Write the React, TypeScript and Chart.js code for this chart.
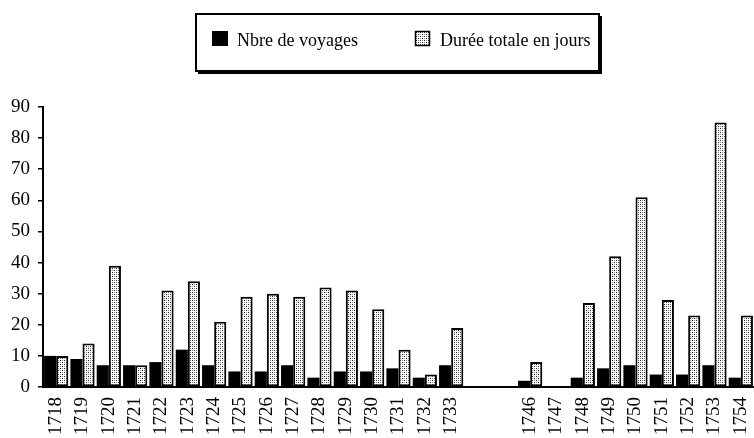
import React, { useEffect, useRef } from 'react';
import { Chart, registerables } from 'chart.js';

Chart.register(...registerables);

const years = [
  '1718', '1719', '1720', '1721', '1722', '1723', '1724', '1725', '1726', '1727',
  '1728', '1729', '1730', '1731', '1732', '1733', '', '', '1746', '1747',
  '1748', '1749', '1750', '1751', '1752', '1753', '1754',
];
const voyages = [10, 9, 7, 7, 8, 12, 7, 5, 5, 7, 3, 5, 5, 6, 3, 7, null, null, 2, 0, 3, 6, 7, 4, 4, 7, 3];
const duree = [10, 14, 39, 7, 31, 34, 21, 29, 30, 29, 32, 31, 25, 12, 4, 19, null, null, 8, 0, 27, 42, 61, 28, 23, 85, 23];
const seriesNames = ['Nbre de voyages', 'Durée totale en jours'];
const yMin = 0;
const yMax = 90;
const yStep = 10;

const FONT = '"Liberation Serif", "Times New Roman", serif';

function makePattern(): CanvasPattern | string {
  const c = document.createElement('canvas');
  c.width = 4;
  c.height = 4;
  const g = c.getContext('2d');
  if (!g) return '#d0d0d0';
  g.fillStyle = '#ffffff';
  g.fillRect(0, 0, 4, 4);
  g.fillStyle = '#222222';
  g.fillRect(0, 0, 1, 1);
  g.fillRect(2, 2, 1, 1);
  g.fillStyle = '#888888';
  g.fillRect(2, 0, 1, 1);
  g.fillRect(0, 2, 1, 1);
  return g.createPattern(c, 'repeat') || '#d0d0d0';
}

export default function App() {
  const ref = useRef<HTMLCanvasElement | null>(null);

  useEffect(() => {
    if (!ref.current) return;
    const pattern = makePattern();

    const legendBox = {
      id: 'legendBox',
      afterDraw(chart: any) {
        const ctx = chart.ctx as CanvasRenderingContext2D;
        ctx.save();
        // frame with shadow
        ctx.fillStyle = '#000';
        ctx.fillRect(599, 16, 3, 58);
        ctx.fillRect(198, 71, 404, 3);
        ctx.strokeStyle = '#000';
        ctx.lineWidth = 2;
        ctx.strokeRect(196, 14, 403, 57);

        const ds = chart.data.datasets;
        ctx.font = '18px ' + FONT;
        ctx.textBaseline = 'alphabetic';
        ctx.textAlign = 'left';
        // item 1
        ctx.fillStyle = '#000';
        ctx.fillRect(212, 31, 16, 15);
        ctx.fillText(ds[0].label, 237, 46);
        // item 2
        ctx.fillStyle = pattern as any;
        ctx.fillRect(415, 31, 15, 15);
        ctx.strokeStyle = '#000';
        ctx.lineWidth = 1.5;
        ctx.strokeRect(415.5, 31.5, 14, 14);
        ctx.fillStyle = '#000';
        ctx.fillText(ds[1].label, 440, 46);
        ctx.restore();
      },
    };

    const chart = new Chart(ref.current, {
      type: 'bar',
      data: {
        labels: years,
        datasets: [
          {
            label: seriesNames[0],
            data: voyages,
            backgroundColor: '#000',
            borderWidth: 0,
            categoryPercentage: 0.92,
            barPercentage: 1.0,
          },
          {
            label: seriesNames[1],
            data: duree,
            backgroundColor: pattern as any,
            borderColor: '#000',
            borderWidth: 2,
            borderSkipped: false,
            categoryPercentage: 0.92,
            barPercentage: 1.0,
          },
        ],
      },
      options: {
        responsive: false,
        animation: false,
        devicePixelRatio: 1,
        layout: { padding: { top: 107, right: -2, left: 0, bottom: 0 } },
        plugins: {
          legend: { display: false },
          tooltip: { enabled: false },
          title: { display: false },
        },
        scales: {
          x: {
            offset: true,
            grid: { display: false, drawTicks: false },
            border: { display: true, color: '#000', width: 2 },
            ticks: {
              autoSkip: false,
              maxRotation: 90,
              minRotation: 90,
              padding: 10,
              color: '#000',
              font: { family: FONT, size: 19 },
            },
            afterFit: (s: any) => {
              s.height = 51;
              s.paddingLeft = 0;
              s.paddingRight = 0;
            },
          },
          y: {
            min: yMin,
            max: yMax,
            grid: {
              display: true,
              drawOnChartArea: false,
              drawTicks: true,
              tickLength: 5,
              color: '#000',
              lineWidth: 1.5,
            },
            border: { display: true, color: '#000', width: 2 },
            ticks: {
              stepSize: yStep,
              padding: 8,
              color: '#000',
              font: { family: FONT, size: 19 },
            },
            afterFit: (s: any) => {
              s.width = 43;
            },
          },
        },
      },
      plugins: [legendBox],
    });

    return () => chart.destroy();
  }, []);

  return (
    <div style={{ position: 'fixed', left: 0, top: 0, width: 754, height: 438, background: '#fff' }}>
      <canvas ref={ref} width={754} height={438} style={{ display: 'block' }} />
    </div>
  );
}
